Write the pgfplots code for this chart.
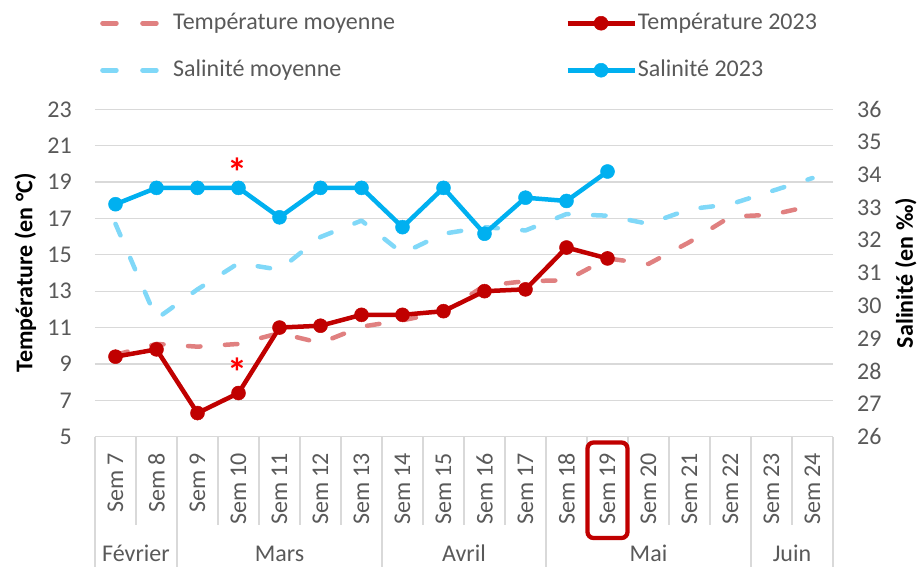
\documentclass[border=0pt]{standalone}
\usepackage{fontspec}
\setmainfont{Carlito}
\usepackage{pgfplots}
\pgfplotsset{compat=1.18}
\definecolor{tred}{HTML}{C00000}
\definecolor{tredl}{HTML}{E08080}
\definecolor{sblue}{HTML}{00B0F0}
\definecolor{sbluel}{HTML}{80D8F8}
\definecolor{txt}{HTML}{595959}
\definecolor{grd}{HTML}{D9D9D9}
\newcommand{\fs}{\fontsize{24}{28}\selectfont}
\tikzset{monthlab/.style={font=\fs, text=txt, anchor=base, inner sep=0pt, yshift=-125.3pt}}
\begin{document}
\begin{tikzpicture}
\path[use as bounding box] (0pt,0pt) rectangle (924pt,567pt);
\begin{axis}[
  width=738pt, height=327.4pt, scale only axis,
  at={(95pt,130.3pt)}, anchor=south west,
  xmin=-0.5, xmax=17.5, ymin=5, ymax=23,
  ytick={5,7,...,23},
  xtick={0,...,17},
  xticklabels={Sem 7,Sem 8,Sem 9,Sem 10,Sem 11,Sem 12,Sem 13,Sem 14,Sem 15,Sem 16,Sem 17,Sem 18,Sem 19,Sem 20,Sem 21,Sem 22,Sem 23,Sem 24},
  axis x line*=bottom, axis y line*=left,
  x axis line style={grd, line width=1.3pt},
  y axis line style={draw=none},
  ytick style={draw=none},
  tick align=outside,
  major tick length=0pt,
  minor xtick={-0.5,0.5,...,17.5},
  minor tick length=88pt,
  minor x tick style={grd, line width=1.3pt},
  extra x ticks={-0.5,1.5,6.5,10.5,15.5,17.5},
  extra x tick labels={},
  extra x tick style={major tick length=131pt, grid=none, tick style={grd, line width=1.3pt}},
  ymajorgrids, major grid style={grd, line width=1.3pt},
  /pgf/number format/assume math mode=true,
  yticklabel style={font=\fs, text=txt, anchor=east, inner sep=0pt, xshift=-23pt},
  xticklabel style={font=\fs, text=txt, rotate=90, anchor=east, inner sep=0pt},
  xticklabel shift=16pt,
  every axis y label/.style={at={(axis description cs:-0.0945,0.5)}, anchor=center, rotate=90, font=\fs\bfseries},
  ylabel={Température (en °C)},
  clip=false,
  legend style={at={(axis description cs:0.0068,1.297)}, anchor=north west, draw=none, fill=none, inner sep=0pt, row sep=25pt, font=\fs, text=txt, nodes={inner sep=0pt, text height=17pt, text depth=5pt}, /tikz/every odd column/.append style={column sep=13pt}},
  legend cell align=left,
]
\addplot[forget plot, tredl, line width=4.5pt, line cap=round, line join=round, dash pattern=on 12.5pt off 24.5pt] coordinates {(0,9.5) (1,10.1) (2,9.95) (3,10.1) (4,10.7) (5,10.15) (6,11.05) (7,11.4) (8,11.85) (9,13.3) (10,13.55) (11,13.6) (12,14.8) (13,14.5) (14,15.7) (15,17.1) (16,17.2) (17,17.7)};
\addplot[forget plot, tred, line width=4.5pt, line join=round, mark=*, mark size=7pt, mark options={solid, fill=tred, draw=tred, line width=0.5pt}] coordinates {(0,9.4) (1,9.8) (2,6.3) (3,7.4) (4,11.0) (5,11.1) (6,11.7) (7,11.7) (8,11.9) (9,13.0) (10,13.1) (11,15.4) (12,14.8)};
\addlegendimage{legend image code/.code={\draw[tredl, line width=4.5pt, line cap=round, dash pattern=on 14pt off 26pt] (2.25pt,0pt) -- (57.75pt,0pt);}}
\addlegendentry{Température moyenne}
\addlegendimage{legend image code/.code={\draw[sbluel, line width=4.5pt, line cap=round, dash pattern=on 14pt off 26pt] (2.25pt,0pt) -- (57.75pt,0pt);}}
\addlegendentry{Salinité moyenne}
\node[font=\fontsize{40}{44}\selectfont\bfseries, text=red, inner sep=0pt, yshift=-6.6pt] at (axis cs:2.97,19.9) {*};
\node[font=\fontsize{40}{44}\selectfont\bfseries, text=red, inner sep=0pt, yshift=-6.6pt] at (axis cs:2.97,8.9) {*};
\draw[tred, line width=4.3pt, rounded corners=6pt] ([xshift=-20pt,yshift=-5.8pt]axis cs:12,5) rectangle ([xshift=20pt,yshift=-101.3pt]axis cs:12,5);
\node[monthlab] at (axis cs:0.5,5) {Février};
\node[monthlab] at (axis cs:4,5) {Mars};
\node[monthlab] at (axis cs:8.5,5) {Avril};
\node[monthlab] at (axis cs:13,5) {Mai};
\node[monthlab] at (axis cs:16.5,5) {Juin};
\end{axis}
\begin{axis}[
  width=738pt, height=327.4pt, scale only axis,
  at={(95pt,130.3pt)}, anchor=south west,
  xmin=-0.5, xmax=17.5, ymin=26, ymax=36,
  ytick={26,...,36},
  hide x axis,
  axis y line*=right,
  y axis line style={draw=none},
  ytick style={draw=none},
  major tick length=0pt,
  /pgf/number format/assume math mode=true,
  yticklabel style={font=\fs, text=txt, anchor=west, inner sep=0pt, xshift=24pt},
  every axis y label/.style={at={(axis description cs:1.0985,0.5)}, anchor=center, rotate=90, font=\fs\bfseries},
  ylabel={Salinité (en ‰)},
  clip=false,
  legend style={at={(axis description cs:0.637,1.297)}, anchor=north west, draw=none, fill=none, inner sep=0pt, row sep=25pt, font=\fs, text=txt, nodes={inner sep=0pt, text height=17pt, text depth=5pt}, /tikz/every odd column/.append style={column sep=1pt}},
  legend cell align=left,
]
\addplot[forget plot, sbluel, line width=4.5pt, line cap=round, line join=round, dash pattern=on 12.5pt off 24.5pt] coordinates {(0,32.5) (1,29.6) (2,30.5) (3,31.3) (4,31.1) (5,32.1) (6,32.6) (7,31.6) (8,32.2) (9,32.4) (10,32.3) (11,32.8) (12,32.75) (13,32.5) (14,32.95) (15,33.1) (16,33.5) (17,33.9)};
\addplot[forget plot, sblue, line width=4.5pt, line join=round, mark=*, mark size=7pt, mark options={solid, fill=sblue, draw=sblue, line width=0.5pt}] coordinates {(0,33.1) (1,33.6) (2,33.6) (3,33.6) (4,32.7) (5,33.6) (6,33.6) (7,32.4) (8,33.6) (9,32.2) (10,33.3) (11,33.2) (12,34.1)};
\addlegendimage{legend image code/.code={\draw[tred, line width=4.5pt, mark=*, mark size=7pt, mark options={fill=tred, draw=tred, line width=0.5pt}, mark repeat=2, mark phase=2] plot coordinates {(0pt,0pt) (33.5pt,0pt) (67pt,0pt)};}}
\addlegendentry{Température 2023}
\addlegendimage{legend image code/.code={\draw[sblue, line width=4.5pt, mark=*, mark size=7pt, mark options={fill=sblue, draw=sblue, line width=0.5pt}, mark repeat=2, mark phase=2] plot coordinates {(0pt,0pt) (33.5pt,0pt) (67pt,0pt)};}}
\addlegendentry{Salinité 2023}
\end{axis}
\end{tikzpicture}
\end{document}
